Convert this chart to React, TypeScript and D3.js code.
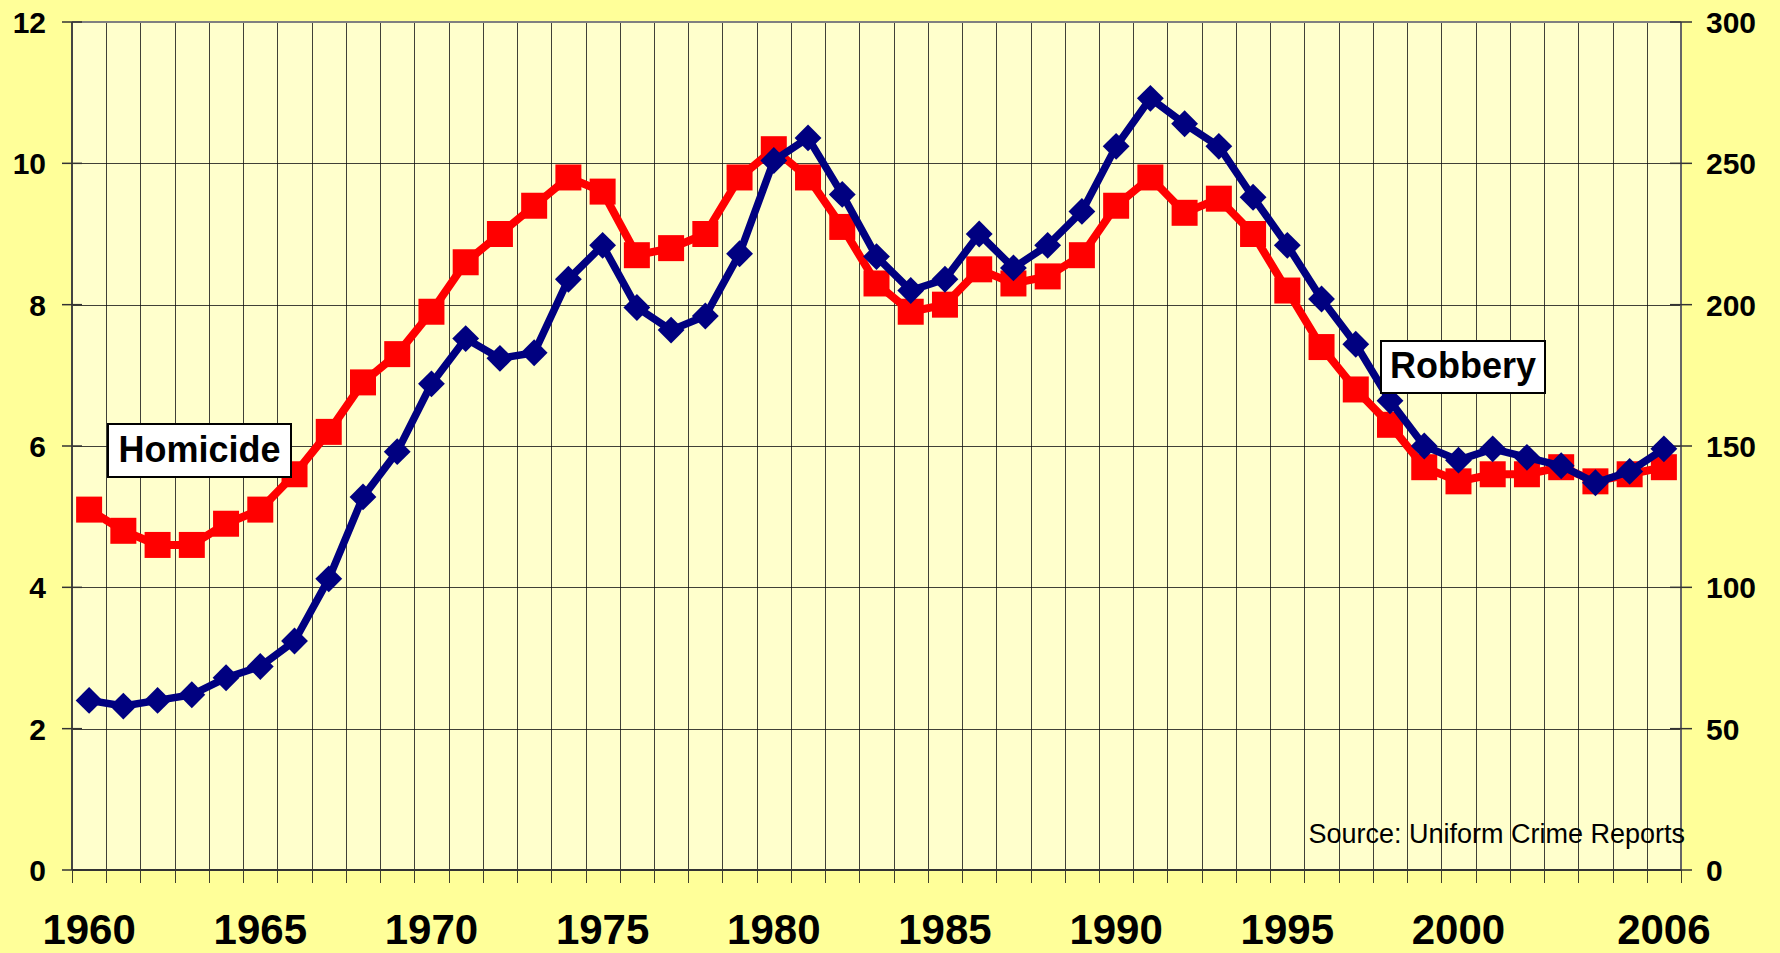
import React from 'react'
import * as d3 from 'd3'

// categories
const years = [
  1960, 1961, 1962, 1963, 1964, 1965, 1966, 1967, 1968, 1969,
  1970, 1971, 1972, 1973, 1974, 1975, 1976, 1977, 1978, 1979,
  1980, 1981, 1982, 1983, 1984, 1985, 1986, 1987, 1988, 1989,
  1990, 1991, 1992, 1993, 1994, 1995, 1996, 1997, 1998, 1999,
  2000, 2001, 2002, 2003, 2004, 2005, 2006
]

// homicide rate (left axis)
const homicide = [
  5.1, 4.8, 4.6, 4.6, 4.9, 5.1, 5.6, 6.2, 6.9, 7.3,
  7.9, 8.6, 9.0, 9.4, 9.8, 9.6, 8.7, 8.8, 9.0, 9.8,
  10.2, 9.8, 9.1, 8.3, 7.9, 8.0, 8.5, 8.3, 8.4, 8.7,
  9.4, 9.8, 9.3, 9.5, 9.0, 8.2, 7.4, 6.8, 6.3, 5.7,
  5.5, 5.6, 5.6, 5.7, 5.5, 5.6, 5.7
]

// robbery rate (right axis)
const robbery = [
  60, 58, 60, 62, 68, 72, 81, 103, 132, 148,
  172, 188, 181, 183, 209, 221, 199, 191, 196, 218,
  251, 259, 239, 217, 205, 209, 225, 213, 221, 233,
  256, 273, 264, 256, 238, 221, 202, 186, 166, 150,
  145, 149, 146, 143, 137, 141, 149
]

const xLabelYears = [1960, 1965, 1970, 1975, 1980, 1985, 1990, 1995, 2000, 2006]
const leftTicks = [0, 2, 4, 6, 8, 10, 12]
const rightTicks = [0, 50, 100, 150, 200, 250, 300]

const W = 1780
const H = 953
const FONT = '"Liberation Sans", Arial, sans-serif'

export default function App() {
  const left = 72, right = 1681, top = 22, bottom = 870

  const x = d3.scaleBand<number>().domain(years).range([left, right]).padding(0)
  const cx = (yr: number) => (x(yr) as number) + x.bandwidth() / 2
  const yL = d3.scaleLinear().domain([0, 12]).range([bottom, top])
  const yR = d3.scaleLinear().domain([0, 300]).range([bottom, top])

  const homLine = d3.line<number>().x((d, i) => cx(years[i])).y((d) => yL(d))
  const robLine = d3.line<number>().x((d, i) => cx(years[i])).y((d) => yR(d))

  const square = d3.symbol().type(d3.symbolSquare).size(676)()
  const diamond = d3.symbol().type(d3.symbolSquare).size(360)()

  const bounds = years.map((yr) => x(yr) as number).concat([right])

  return (
    <svg width={W} height={H}
      style={{ position: 'absolute', left: 0, top: 0, display: 'block' }}
      fontFamily={FONT}>
      <rect x={0} y={0} width={W} height={H} fill="#FFFF99" />
      <rect x={left} y={top} width={right - left} height={bottom - top} fill="#FFFFCC" />

      {/* vertical grid + x ticks */}
      {bounds.map((bx, i) => (
        <line key={'v' + i} x1={Math.round(bx) + 0.5} x2={Math.round(bx) + 0.5} y1={top} y2={bottom + 13}
          stroke="#111" strokeOpacity={0.8} strokeWidth={1} />
      ))}

      {/* horizontal grid */}
      {leftTicks.filter((t) => t > 0 && t < 12).map((t) => (
        <line key={'h' + t} x1={left} x2={right} y1={Math.round(yL(t)) + 0.5} y2={Math.round(yL(t)) + 0.5}
          stroke="#111" strokeOpacity={0.8} strokeWidth={1} />
      ))}

      {/* frame */}
      <line x1={left} x2={right} y1={top} y2={top} stroke="#808080" strokeWidth={2} />
      <line x1={right} x2={right} y1={top} y2={bottom} stroke="#666" strokeWidth={2} />
      <line x1={left} x2={left} y1={top} y2={bottom} stroke="#444" strokeWidth={2} />
      <line x1={left} x2={right} y1={bottom} y2={bottom} stroke="#333" strokeWidth={2} />

      {/* left axis */}
      {leftTicks.map((t) => (
        <g key={'l' + t}>
          <line x1={62} x2={82} y1={yL(t)} y2={yL(t)} stroke="#333" strokeWidth={1.5} />
          <text x={46} y={yL(t) + 11} textAnchor="end" fontSize={30} fontWeight="bold" fill="#000">{t}</text>
        </g>
      ))}

      {/* right axis */}
      {rightTicks.map((t) => (
        <g key={'r' + t}>
          <line x1={1670} x2={1692} y1={yR(t)} y2={yR(t)} stroke="#333" strokeWidth={1.5} />
          <text x={1706} y={yR(t) + 11} textAnchor="start" fontSize={30} fontWeight="bold" fill="#000">{t}</text>
        </g>
      ))}

      {/* x labels */}
      {xLabelYears.map((yr) => (
        <text key={'x' + yr} x={cx(yr)} y={944} textAnchor="middle" fontSize={42} fontWeight="bold" fill="#000">{yr}</text>
      ))}

      <text x={1685} y={843} textAnchor="end" fontSize={27} fill="#000">Source: Uniform Crime Reports</text>

      {/* homicide */}
      <path d={homLine(homicide) || ''} fill="none" stroke="#FF0000" strokeWidth={8} strokeLinejoin="round" />
      {homicide.map((v, i) => (
        <path key={'hs' + i} d={square || ''} transform={`translate(${cx(years[i])},${yL(v)})`} fill="#FF0000" />
      ))}

      {/* robbery */}
      <path d={robLine(robbery) || ''} fill="none" stroke="#000080" strokeWidth={7.5} strokeLinejoin="round" />
      {robbery.map((v, i) => (
        <path key={'rd' + i} d={diamond || ''} transform={`translate(${cx(years[i])},${yR(v)}) rotate(45)`} fill="#000080" />
      ))}

      {/* labels */}
      <rect x={108} y={424} width={183} height={53} fill="#fff" stroke="#000" strokeWidth={2} />
      <text x={199.5} y={462} textAnchor="middle" fontSize={36} fontWeight="bold" fill="#000">Homicide</text>

      <rect x={1381} y={341} width={164} height={52} fill="#fff" stroke="#000" strokeWidth={2} />
      <text x={1463} y={378} textAnchor="middle" fontSize={36} fontWeight="bold" fill="#000">Robbery</text>
    </svg>
  )
}
